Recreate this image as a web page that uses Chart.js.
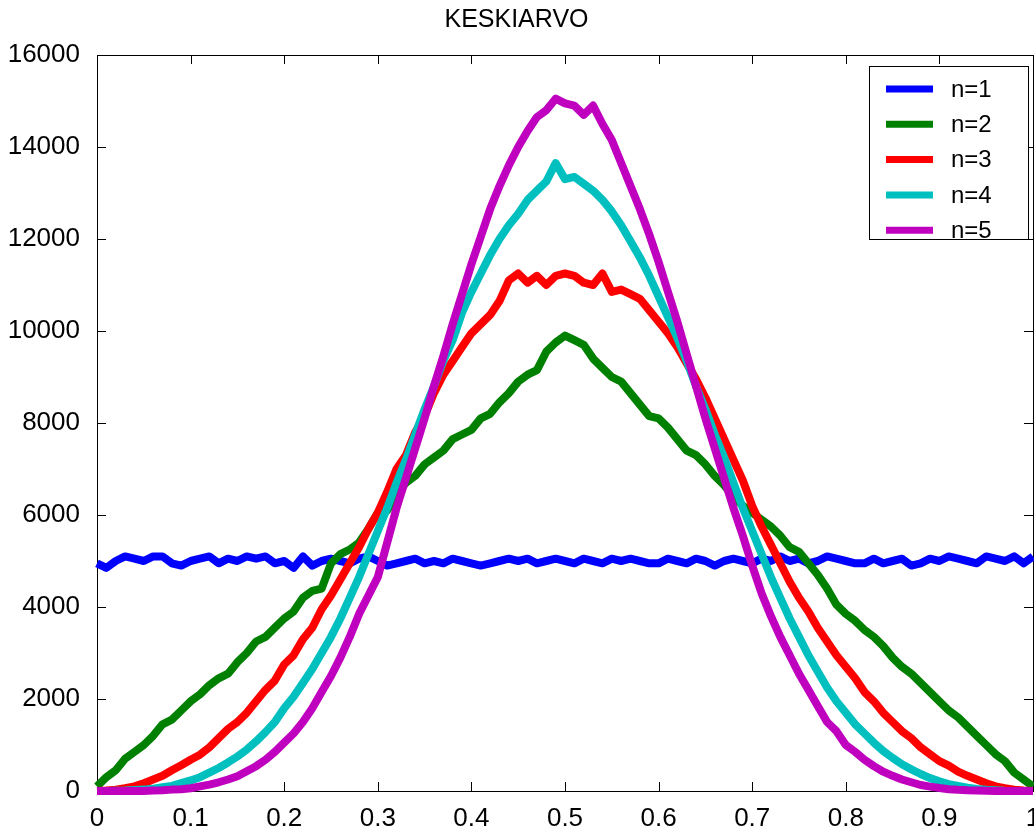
<!DOCTYPE html>
<html>
<head>
<meta charset="utf-8">
<script src="https://cdn.jsdelivr.net/npm/chart.js@4/dist/chart.umd.min.js"></script>
<style>
html,body{margin:0;padding:0;background:#fff;}
#wrap{width:1034px;height:829px;}
</style>
</head>
<body>
<div id="wrap"><canvas id="c" width="1034" height="829"></canvas></div>
<script>
const titleText = 'KESKIARVO';
const seriesLabels = ['n=1','n=2','n=3','n=4','n=5'];
const xTickLabels = ['0','0.1','0.2','0.3','0.4','0.5','0.6','0.7','0.8','0.9','1'];
const yTickLabels = ['0','2000','4000','6000','8000','10000','12000','14000','16000'];

const xValues = [0,0.01,0.02,0.03,0.04,0.05,0.06,0.07,0.08,0.09,
0.10,0.11,0.12,0.13,0.14,0.15,0.16,0.17,0.18,0.19,
0.20,0.21,0.22,0.23,0.24,0.25,0.26,0.27,0.28,0.29,
0.30,0.31,0.32,0.33,0.34,0.35,0.36,0.37,0.38,0.39,
0.40,0.41,0.42,0.43,0.44,0.45,0.46,0.47,0.48,0.49,
0.50,0.51,0.52,0.53,0.54,0.55,0.56,0.57,0.58,0.59,
0.60,0.61,0.62,0.63,0.64,0.65,0.66,0.67,0.68,0.69,
0.70,0.71,0.72,0.73,0.74,0.75,0.76,0.77,0.78,0.79,
0.80,0.81,0.82,0.83,0.84,0.85,0.86,0.87,0.88,0.89,
0.90,0.91,0.92,0.93,0.94,0.95,0.96,0.97,0.98,0.99,1.00];

const n1 = [4950,4850,5000,5100,5050,5000,5100,5100,4950,4900,
5000,5050,5100,4950,5050,5000,5100,5050,5100,4950,
5000,4850,5100,4900,5000,5050,5000,4950,5050,5100,
5000,4900,4950,5000,5050,4950,5000,4950,5050,5000,
4950,4900,4950,5000,5050,5000,5050,4950,5000,5050,
5000,4950,5050,5000,4950,5050,5000,5050,5000,4950,
4950,5050,5000,4950,5050,5000,4900,5000,5050,5000,
4950,5050,5000,5100,5000,5050,4950,5000,5100,5050,
5000,4950,4950,5050,4950,5000,5050,4900,4950,5050,
5000,5100,5050,5000,4950,5100,5050,5000,5100,4950,5100];

const n2 = [100,300,450,700,850,1000,1200,1450,1550,1750,
1950,2100,2300,2450,2550,2800,3000,3250,3350,3550,
3750,3900,4200,4350,4400,4950,5150,5250,5400,5700,
6050,6100,6450,6700,6850,7100,7250,7400,7650,7750,
7850,8100,8200,8450,8650,8900,9050,9150,9550,9750,
9900,9800,9700,9400,9200,9000,8900,8650,8400,8150,
8100,7900,7650,7400,7300,7100,6850,6650,6400,6200,
6050,5900,5750,5550,5300,5200,4950,4700,4400,4050,
3850,3700,3500,3350,3150,2900,2700,2550,2350,2150,
1950,1750,1600,1400,1200,1000,800,650,400,250,100];

const n3 = [0,10,30,60,100,170,250,330,450,560,
680,790,950,1150,1350,1500,1700,1950,2200,2400,
2750,2950,3300,3550,3950,4250,4600,4950,5300,5700,
6050,6500,7000,7300,7800,8150,8650,9050,9350,9650,
9950,10150,10350,10650,11100,11250,11050,11200,11000,11200,
11250,11200,11050,11000,11250,10850,10900,10800,10700,10450,
10200,9950,9650,9300,8950,8550,8100,7650,7200,6750,
6200,5750,5350,4950,4550,4200,3900,3550,3250,2950,
2700,2450,2150,1950,1700,1500,1300,1150,950,800,
650,550,420,330,250,170,100,60,30,10,0];

const n4 = [0,0,5,10,20,30,50,80,110,170,
230,300,400,500,620,750,900,1080,1280,1500,
1800,2050,2350,2650,3000,3350,3750,4200,4650,5150,
5650,6150,6700,7200,7750,8300,8800,9350,9800,10400,
10850,11250,11650,12000,12300,12550,12850,13050,13250,13650,
13300,13350,13200,13050,12850,12600,12300,11950,11600,11200,
10750,10300,9850,9350,8800,8300,7750,7250,6700,6150,
5650,5150,4650,4200,3750,3350,2950,2600,2250,1950,
1700,1450,1250,1050,870,720,580,470,370,280,
210,150,110,70,45,25,15,5,0,0,0];

const n5 = [0,0,0,0,0,0,10,15,30,40,
60,100,140,190,250,320,430,540,680,850,
1050,1250,1500,1800,2150,2500,2900,3350,3850,4250,
4650,5400,6150,6800,7450,8100,8800,9450,10150,10800,
11450,12050,12650,13150,13600,14000,14350,14650,14800,15050,
14950,14900,14700,14900,14500,14150,13650,13150,12650,12100,
11500,10850,10200,9500,8800,8100,7450,6800,6150,5550,
4900,4300,3800,3350,2950,2550,2200,1850,1500,1300,
1000,850,680,540,420,330,250,190,130,95,
65,40,25,15,10,5,0,0,0,0,0];

const seriesValues = [n1,n2,n3,n4,n5];
const seriesColors = ['#0000ff','#008000','#ff0000','#00bfbf','#bf00bf'];

const FONT = "'Liberation Sans', Arial, Helvetica, sans-serif";

const datasets = seriesValues.map((vals, i) => ({
  label: seriesLabels[i],
  data: vals.map((v, j) => ({x: xValues[j], y: v})),
  borderColor: seriesColors[i],
  backgroundColor: seriesColors[i],
  borderWidth: 8,
  pointRadius: 0,
  tension: 0,
  fill: false,
  clip: false,
  borderJoinStyle: 'round',
  borderCapStyle: 'butt',
  order: seriesValues.length - i
}));

const boxPlugin = {
  id: 'matlabBox',
  beforeDatasetsDraw(chart) {
    const {ctx, chartArea: a, scales} = chart;
    ctx.save();
    ctx.strokeStyle = '#000';
    ctx.lineWidth = 1;
    ctx.strokeRect(Math.round(a.left) + 0.5, Math.round(a.top) + 0.5,
                   Math.round(a.right - a.left), Math.round(a.bottom - a.top));
    const tl = 9;
    ctx.beginPath();
    scales.x.ticks.forEach(t => {
      const px = Math.round(scales.x.getPixelForValue(t.value)) + 0.5;
      ctx.moveTo(px, a.bottom); ctx.lineTo(px, a.bottom - tl);
      ctx.moveTo(px, a.top); ctx.lineTo(px, a.top + tl);
    });
    scales.y.ticks.forEach(t => {
      const py = Math.round(scales.y.getPixelForValue(t.value)) + 0.5;
      ctx.moveTo(a.left, py); ctx.lineTo(a.left + tl, py);
      ctx.moveTo(a.right, py); ctx.lineTo(a.right - tl, py);
    });
    ctx.stroke();
    ctx.restore();
  },
  afterDraw(chart) {
    const {ctx} = chart;
    const bx = 869, by = 66, bw = 159, bh = 173;
    ctx.save();
    ctx.fillStyle = '#fff';
    ctx.fillRect(bx, by, bw, bh);
    ctx.strokeStyle = '#000';
    ctx.lineWidth = 1;
    ctx.strokeRect(bx + 0.5, by + 0.5, bw, bh);
    chart.data.datasets.forEach((ds, i) => {
      const y = 89 + i * 35.3;
      ctx.strokeStyle = ds.borderColor;
      ctx.lineWidth = 7;
      ctx.beginPath();
      ctx.moveTo(886, y); ctx.lineTo(933, y);
      ctx.stroke();
      ctx.fillStyle = '#000';
      ctx.font = '24px ' + FONT;
      ctx.textAlign = 'left';
      ctx.textBaseline = 'middle';
      ctx.fillText(ds.label, 951, y + 1);
    });
    ctx.restore();
  }
};

new Chart(document.getElementById('c'), {
  type: 'line',
  data: {datasets},
  options: {
    responsive: false,
    animation: false,
    devicePixelRatio: 1,
    layout: {padding: {left: 0, right: 1, top: 0, bottom: 0}},
    plugins: {
      legend: {display: false},
      tooltip: {enabled: false},
      title: {
        display: true,
        text: titleText,
        color: '#000',
        font: {family: FONT, size: 25, weight: 'normal'},
        padding: {top: 5, bottom: 20}
      }
    },
    scales: {
      x: {
        type: 'linear',
        min: 0, max: 1,
        grid: {display: false},
        border: {display: false},
        ticks: {
          stepSize: 0.1,
          maxRotation: 0,
          autoSkip: false,
          padding: 4,
          color: '#000',
          font: {family: FONT, size: 26},
          callback: (v, i) => xTickLabels[i]
        },
        afterFit: (s) => { s.height = 38; s.paddingLeft = 0; s.paddingRight = 0; }
      },
      y: {
        type: 'linear',
        min: 0, max: 16000,
        grid: {display: false},
        border: {display: false},
        ticks: {
          stepSize: 2000,
          autoSkip: false,
          padding: 9,
          color: '#000',
          font: {family: FONT, size: 26},
          callback: (v, i) => yTickLabels[i]
        },
        afterFit: (s) => { s.width = 97; s.paddingTop = 0; s.paddingBottom = 0; }
      }
    }
  },
  plugins: [boxPlugin]
});
</script>
</body>
</html>
